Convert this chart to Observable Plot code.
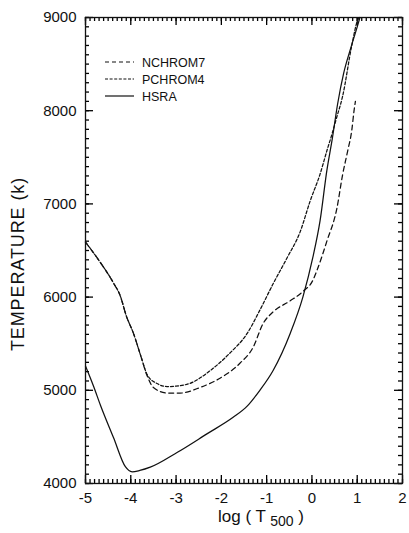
<!DOCTYPE html>
<html>
<head>
<meta charset="utf-8">
<script src="https://cdn.jsdelivr.net/npm/d3@7"></script>
<script src="https://cdn.jsdelivr.net/npm/@observablehq/plot@0.6"></script>
<style>
  html, body { margin: 0; padding: 0; background: #fff; }
  #chart { position: relative; width: 409px; height: 533px; }
  svg { font-family: "Liberation Sans", Arial, Helvetica, sans-serif; }
</style>
</head>
<body>
<div id="chart"></div>
<script>
// ---- data ----
const hsraX = [-5, -4.82, -4.67, -4.38, -4.12, -3.97, -3.8, -3.57, -2.97, -2.31, -1.74, -1.43, -1.15, -0.86, -0.48, -0.2, 0.02, 0.18, 0.33, 0.45, 0.57, 0.7, 0.85, 1.0, 1.06];
const hsraT = [5260, 5040, 4840, 4490, 4180, 4125, 4140, 4175, 4335, 4535, 4710, 4830, 5000, 5210, 5610, 6000, 6425, 6820, 7360, 7700, 8080, 8400, 8660, 8900, 9000];

const nchrom7X = [-5, -4.67, -4.38, -4.23, -4.1, -3.94, -3.78, -3.65, -3.5, -3.19, -2.91, -2.47, -2.03, -1.59, -1.3, -1.08, -0.86, -0.48, -0.2, 0.02, 0.11, 0.33, 0.55, 0.68, 0.79, 0.88, 0.93, 0.96];
const nchrom7T = [6590, 6370, 6150, 6010, 5800, 5610, 5370, 5170, 5030, 4970, 4970, 5030, 5130, 5290, 5460, 5715, 5840, 5960, 6060, 6180, 6285, 6600, 6950, 7320, 7570, 7790, 8000, 8100];

const pchrom4X = [-5, -4.67, -4.38, -4.23, -4.1, -3.94, -3.78, -3.63, -3.41, -3.2, -3.0, -2.69, -2.25, -1.81, -1.43, -1.15, -0.86, -0.55, -0.26, -0.04, 0.18, 0.33, 0.45, 0.53, 0.68, 0.88, 1.01, 1.05];
const pchrom4T = [6590, 6370, 6150, 6010, 5800, 5610, 5370, 5160, 5070, 5040, 5045, 5075, 5210, 5400, 5610, 5860, 6140, 6420, 6700, 7030, 7320, 7570, 7760, 7900, 8160, 8700, 8970, 9000];

const seriesNames = ["NCHROM7", "PCHROM4", "HSRA"];
const seriesDash = ["5,3.5", "3,2", null];
const legendDash = ["4,3", "3,1.6", null];

const xTickLabels = [-5, -4, -3, -2, -1, 0, 1, 2];
const yTickLabels = [4000, 5000, 6000, 7000, 8000, 9000];
const xMinorTicks = d3.range(-50, 21).map(d => d / 10);
const yMinorTicks = d3.range(40, 91).map(d => d * 100);

const xLabel = "log";
const xLabelSub = "500";
const yLabel = "TEMPERATURE (k)";

// ---- build rows ----
const rows = [];
[[nchrom7X, nchrom7T, 0], [pchrom4X, pchrom4T, 1], [hsraX, hsraT, 2]].forEach(([xs, ts, i]) => {
  xs.forEach((x, j) => rows.push({series: seriesNames[i], x, t: ts[j]}));
});

const W = 409, H = 533;
const mL = 85, mR = 7, mT = 17, mB = 50;
const innerW = W - mL - mR, innerH = H - mT - mB;

const lineMark = (i) => Plot.line(rows.filter(r => r.series === seriesNames[i]), {
  x: "x", y: "t", stroke: "#111", strokeWidth: 1.25,
  strokeDasharray: seriesDash[i], curve: "monotone-x"
});

const tickStyle = {stroke: "#000", strokeWidth: 1.3};

const chart = Plot.plot({
  width: W, height: H,
  marginLeft: mL, marginRight: mR, marginTop: mT, marginBottom: mB,
  x: {domain: [-5, 2]},
  y: {domain: [4000, 9000]},
  style: {fontSize: "15px", fontFamily: "Liberation Sans, Arial, Helvetica, sans-serif", color: "#111", background: "#fff"},
  marks: [
    Plot.axisX({ticks: xTickLabels, tickSize: 0, tickPadding: 9, label: null, tickFormat: d => String(d), fontSize: 15}),
    Plot.axisY({ticks: yTickLabels, tickSize: 0, tickPadding: 9, label: null, tickFormat: d => String(d), fontSize: 15}),
    // inward ticks on all four sides
    Plot.tickX(xMinorTicks, {x: d => d, insetTop: innerH - 4, ...tickStyle}),
    Plot.tickX(xMinorTicks, {x: d => d, insetBottom: innerH - 4, ...tickStyle}),
    Plot.tickX(xTickLabels, {x: d => d, insetTop: innerH - 8, ...tickStyle}),
    Plot.tickX(xTickLabels, {x: d => d, insetBottom: innerH - 8, ...tickStyle}),
    Plot.tickY(yMinorTicks, {y: d => d, insetRight: innerW - 4, ...tickStyle}),
    Plot.tickY(yMinorTicks, {y: d => d, insetLeft: innerW - 4, ...tickStyle}),
    Plot.tickY(yTickLabels, {y: d => d, insetRight: innerW - 8, ...tickStyle}),
    Plot.tickY(yTickLabels, {y: d => d, insetLeft: innerW - 8, ...tickStyle}),
    Plot.frame({stroke: "#111", strokeWidth: 1.3}),
    lineMark(0),
    lineMark(1),
    lineMark(2)
  ]
});

const svg = d3.select(chart);

// x-axis title with subscript
const xt = svg.append("text")
  .attr("x", 261).attr("y", 522)
  .attr("text-anchor", "middle")
  .attr("font-size", 17).attr("fill", "#111");
xt.append("tspan").text(xLabel + " ( T ");
xt.append("tspan").attr("dy", 4).attr("font-size", 14).text(xLabelSub);
xt.append("tspan").attr("dy", -4).text(" )");

// y-axis title
svg.append("text")
  .attr("transform", "translate(24,264) rotate(-90)")
  .attr("text-anchor", "middle")
  .attr("font-size", 18).attr("letter-spacing", 0.9).attr("fill", "#111")
  .text(yLabel);

// legend
const lg = svg.append("g").attr("font-size", 12.5).attr("fill", "#111");
seriesNames.forEach((name, i) => {
  const y = 62 + i * 17;
  lg.append("line").attr("x1", 105).attr("x2", 134).attr("y1", y).attr("y2", y)
    .attr("stroke", "#111").attr("stroke-width", 1.2)
    .attr("stroke-dasharray", legendDash[i]);
  lg.append("text").attr("x", 142).attr("y", y + 4.5).attr("text-anchor", "start").text(name);
});

document.getElementById("chart").appendChild(chart);
</script>
</body>
</html>
